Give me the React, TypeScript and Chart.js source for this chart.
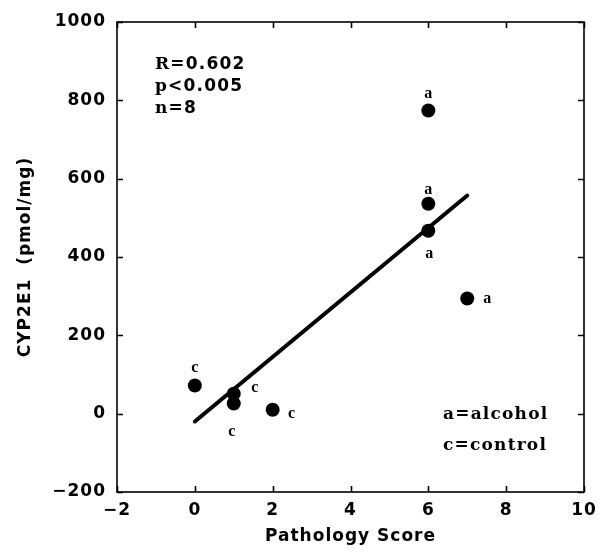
import React, { useEffect, useRef } from "react";
import { Chart, registerables } from "chart.js";

Chart.register(...registerables);

// ---- data ----
const pathologyScores = [0, 1, 1, 2, 6, 6, 6, 7];
const cyp2e1Values = [72, 51, 26, 10, 774, 536, 467, 294];
const groupLabels = ["c", "c", "c", "c", "a", "a", "a", "a"];
const fitLineX = [0, 7];
const fitLineY = [-20, 557];
const xTickValues = [-2, 0, 2, 4, 6, 8, 10];
const yTickValues = [-200, 0, 200, 400, 600, 800, 1000];
const statsLines = ["R=0.602", "p<0.005", "n=8"];
const legendLines = ["a=alcohol", "c=control"];
const xTitle = "Pathology Score";
const yTitle = "CYP2E1  (pmol/mg)";

// ---- styling (pixel offsets for point letters) ----
const labelOffsets: [number, number][] = [
  [0, -18], [21, -6], [-2, 28], [19, 4],
  [0, -17], [0, -14], [1, 23], [20, 0],
];

const fmt = (v: number) => String(v).replace("-", "\u2212");

const SERIF = "bold 17px 'DejaVu Serif'";
const SANS = "bold 17px 'DejaVu Sans'";

function drawMixed(ctx: CanvasRenderingContext2D, text: string, x: number, y: number) {
  let cx = x;
  for (const ch of text) {
    ctx.font = /[a-zA-Z]/.test(ch) ? SERIF : SANS;
    ctx.fillText(ch, cx, y);
    cx += ctx.measureText(ch).width + 1.2;
  }
}

const overlayPlugin = {
  id: "overlay",
  beforeDraw(chart: any) {
    chart.ctx.letterSpacing = "1px";
  },
  afterDraw(chart: any) {
    const { ctx, chartArea, scales } = chart;
    const xs = scales.x, ys = scales.y;
    const { left, right, top, bottom } = chartArea;
    ctx.save();
    ctx.strokeStyle = "#000";
    ctx.lineWidth = 1.6;
    ctx.strokeRect(left, top, right - left, bottom - top);
    const tl = 6;
    ctx.beginPath();
    xTickValues.forEach((v) => {
      const px = Math.round(xs.getPixelForValue(v)) + 0.5;
      ctx.moveTo(px, bottom); ctx.lineTo(px, bottom - tl);
      ctx.moveTo(px, top); ctx.lineTo(px, top + tl);
    });
    yTickValues.forEach((v) => {
      const py = Math.round(ys.getPixelForValue(v)) + 0.5;
      ctx.moveTo(left, py); ctx.lineTo(left + tl, py);
      ctx.moveTo(right, py); ctx.lineTo(right - tl, py);
    });
    ctx.stroke();

    // point group letters
    ctx.fillStyle = "#000";
    ctx.textAlign = "center";
    ctx.textBaseline = "middle";
    ctx.letterSpacing = "0px";
    ctx.font = "bold 16px 'Liberation Serif'";
    pathologyScores.forEach((x, i) => {
      const px = xs.getPixelForValue(x) + labelOffsets[i][0];
      const py = ys.getPixelForValue(cyp2e1Values[i]) + labelOffsets[i][1];
      ctx.fillText(groupLabels[i], px, py);
    });

    // stats block and legend
    ctx.textAlign = "left";
    statsLines.forEach((t, i) => {
      drawMixed(ctx, t, left + 38, top + 43 + i * 22);
    });
    legendLines.forEach((t, i) => {
      drawMixed(ctx, t, left + 326, top + 393 + i * 31);
    });
    ctx.restore();
  },
};

export default function App() {
  const ref = useRef<HTMLCanvasElement>(null);
  useEffect(() => {
    if (!ref.current) return;
    const tickFont = { family: "'DejaVu Sans'", size: 17, weight: "bold" as const };
    const chart = new Chart(ref.current, {
      type: "scatter",
      data: {
        datasets: [
          {
            type: "scatter",
            data: pathologyScores.map((x, i) => ({ x, y: cyp2e1Values[i] })),
            backgroundColor: "#000",
            borderColor: "#000",
            borderWidth: 0,
            pointRadius: 7,
            pointHoverRadius: 7,
            order: 0,
          },
          {
            type: "line",
            data: fitLineX.map((x, i) => ({ x, y: fitLineY[i] })),
            borderColor: "#000",
            borderWidth: 4,
            pointRadius: 0,
            showLine: true,
            borderCapStyle: "round",
            order: 1,
          } as any,
        ],
      },
      options: {
        animation: false,
        responsive: false,
        events: [],
        layout: { padding: { top: 22, right: 23, bottom: 0, left: 0 } },
        plugins: { legend: { display: false }, tooltip: { enabled: false } },
        scales: {
          x: {
            type: "linear",
            min: -2,
            max: 10,
            afterFit: (s: any) => { s.height = 64; },
            afterBuildTicks: (s: any) => { s.ticks = xTickValues.map((v) => ({ value: v })); },
            grid: { display: false, drawTicks: false },
            border: { display: false },
            ticks: { color: "#000", font: tickFont, padding: 8, callback: (v: any) => fmt(v) },
            title: {
              display: true,
              text: xTitle,
              color: "#000",
              font: tickFont,
              padding: { top: 0, bottom: 9 },
            },
          },
          y: {
            type: "linear",
            min: -200,
            max: 1000,
            afterFit: (s: any) => { s.width = 117; },
            afterBuildTicks: (s: any) => { s.ticks = yTickValues.map((v) => ({ value: v })); },
            grid: { display: false, drawTicks: false },
            border: { display: false },
            ticks: { color: "#000", font: tickFont, padding: 11, callback: (v: any) => fmt(v) },
            title: {
              display: true,
              text: yTitle,
              color: "#000",
              font: tickFont,
              padding: { top: 15, bottom: 0 },
            },
          },
        },
      },
      plugins: [overlayPlugin],
    });
    return () => chart.destroy();
  }, []);
  return (
    <div style={{ position: "absolute", left: 0, top: 0, width: 607, height: 556, background: "#fff" }}>
      <canvas ref={ref} width={607} height={556} style={{ display: "block" }} />
    </div>
  );
}
